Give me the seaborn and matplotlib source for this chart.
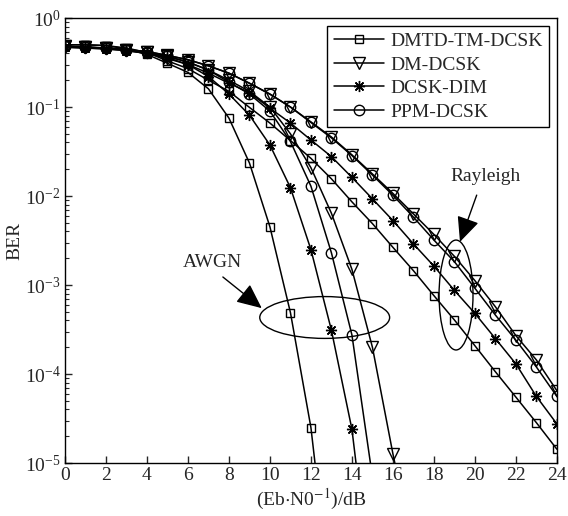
import numpy as np
import pandas as pd
import matplotlib
matplotlib.use('Agg')
import matplotlib.pyplot as plt
import seaborn as sns
from matplotlib.patches import Ellipse

# Eb/N0 grid (dB)
snr = list(range(0, 25))

# Rayleigh channel BER
ray_dmtd = [0.50, 0.50, 0.49, 0.46, 0.41, 0.33, 0.27, 0.20, 0.15, 0.099, 0.066, 0.042, 0.0265,
            0.0156, 0.0086, 0.0049, 0.00265, 0.00145, 7.6e-4, 4.05e-4, 2.08e-4, 1.06e-4,
            5.5e-5, 2.84e-5, 1.43e-5]
ray_dm = [0.48, 0.47, 0.46, 0.44, 0.42, 0.38, 0.34, 0.29, 0.24, 0.185, 0.14, 0.10, 0.068,
          0.046, 0.029, 0.0177, 0.0107, 6.3e-3, 3.7e-3, 2.1e-3, 1.12e-3, 5.7e-4, 2.7e-4,
          1.44e-4, 6.5e-5]
ray_dim = [0.47, 0.46, 0.45, 0.43, 0.40, 0.35, 0.30, 0.24, 0.185, 0.145, 0.097, 0.066, 0.0426,
           0.0277, 0.0162, 9.3e-3, 5.3e-3, 2.9e-3, 1.63e-3, 8.7e-4, 4.8e-4, 2.5e-4, 1.3e-4,
           5.6e-5, 2.75e-5]
ray_ppm = [0.48, 0.47, 0.46, 0.44, 0.42, 0.38, 0.34, 0.29, 0.24, 0.185, 0.139, 0.10, 0.067,
           0.045, 0.0285, 0.0172, 0.0102, 5.8e-3, 3.2e-3, 1.83e-3, 9.2e-4, 4.6e-4, 2.4e-4,
           1.2e-4, 5.6e-5]

# AWGN channel BER (last point lies below the plotted range)
awgn_dmtd = [0.50, 0.50, 0.49, 0.45, 0.39, 0.31, 0.245, 0.16, 0.075, 0.0235, 0.0045, 4.9e-4,
             2.5e-5, 2.5e-7]
awgn_dm = [0.48, 0.47, 0.46, 0.44, 0.41, 0.37, 0.32, 0.26, 0.20, 0.15, 0.10, 0.05, 0.0208,
           6.4e-3, 1.5e-3, 2.0e-4, 1.27e-5, 1e-6]
awgn_dim = [0.47, 0.46, 0.45, 0.43, 0.40, 0.36, 0.30, 0.22, 0.14, 0.081, 0.0374, 0.0124,
            2.5e-3, 3.1e-4, 2.4e-5, 3e-7]
awgn_ppm = [0.48, 0.47, 0.46, 0.44, 0.41, 0.37, 0.32, 0.26, 0.19, 0.14, 0.09, 0.041, 0.0129,
            2.3e-3, 2.75e-4, 7e-6]

schemes = ['DMTD-TM-DCSK', 'DM-DCSK', 'DCSK-DIM', 'PPM-DCSK']
markers = ['s', 'v', (8, 2, 0), 'o']
msizes = [6, 8, 8, 7.5]
rayleigh = [ray_dmtd, ray_dm, ray_dim, ray_ppm]
awgn = [awgn_dmtd, awgn_dm, awgn_dim, awgn_ppm]

sns.set_style('ticks')
plt.rcParams['font.family'] = ['Liberation Serif', 'DejaVu Serif']
plt.rcParams['mathtext.fontset'] = 'stix'
plt.rcParams['xtick.direction'] = 'in'
plt.rcParams['ytick.direction'] = 'in'

fig = plt.figure(figsize=(5.68, 5.16), dpi=100)
ax = fig.add_axes([0.1144, 0.1027, 0.866, 0.8624])

for name, mk, ms, ray, aw in zip(schemes, markers, msizes, rayleigh, awgn):
    df_r = pd.DataFrame({'snr': snr[:len(ray)], 'ber': ray})
    df_a = pd.DataFrame({'snr': snr[:len(aw)], 'ber': aw})
    sns.lineplot(data=df_r, x='snr', y='ber', ax=ax, color='k', lw=1.1, marker=mk,
                 markersize=ms, markerfacecolor='none', markeredgecolor='k',
                 markeredgewidth=1.0, label=name)
    sns.lineplot(data=df_a, x='snr', y='ber', ax=ax, color='k', lw=1.1, marker=mk,
                 markersize=ms, markerfacecolor='none', markeredgecolor='k',
                 markeredgewidth=1.0)

ax.set_yscale('log')
ax.set_xlim(0, 24)
ax.set_ylim(1e-5, 1)
ax.set_xticks(range(0, 25, 2))
ax.set_xlabel(r'(Eb$\cdot$N0$^{-1}$)/dB', fontsize=14, labelpad=2)
ax.set_ylabel('BER', fontsize=14)
ax.yaxis.set_label_coords(-0.085, 0.5)
ax.tick_params(axis='both', which='major', labelsize=14, length=5, width=1, pad=3)
ax.tick_params(axis='y', which='minor', length=3, width=0.8)
for s in ax.spines.values():
    s.set_linewidth(1.0)
    s.set_color('k')

leg = ax.legend(loc='upper right', fontsize=14, frameon=True, fancybox=False,
                edgecolor='k', framealpha=1, borderaxespad=0.4, labelspacing=0.3,
                handlelength=2.6, handletextpad=0.3, borderpad=0.35)
leg.get_frame().set_linewidth(1.0)

# channel annotations
ax.add_patch(Ellipse((0.528, 0.327), 0.264, 0.094, transform=ax.transAxes,
                     fill=False, ec='k', lw=1.0))
ax.add_patch(Ellipse((0.795, 0.3775), 0.069, 0.247, transform=ax.transAxes,
                     fill=False, ec='k', lw=1.0))
ax.text(0.30, 0.45, 'AWGN', transform=ax.transAxes, fontsize=14, ha='center', va='center')
ax.text(0.854, 0.643, 'Rayleigh', transform=ax.transAxes, fontsize=14, ha='center',
        va='center')
arrow = dict(arrowstyle='-|>,head_length=1.1,head_width=0.5', color='k', lw=1.0,
             mutation_scale=14, shrinkA=0, shrinkB=0)
ax.annotate('', xy=(0.400, 0.348), xytext=(0.321, 0.418), xycoords='axes fraction',
            textcoords='axes fraction', arrowprops=arrow)
ax.annotate('', xy=(0.803, 0.497), xytext=(0.837, 0.602), xycoords='axes fraction',
            textcoords='axes fraction', arrowprops=arrow)

plt.savefig('out.png', dpi=100)
plt.close()
